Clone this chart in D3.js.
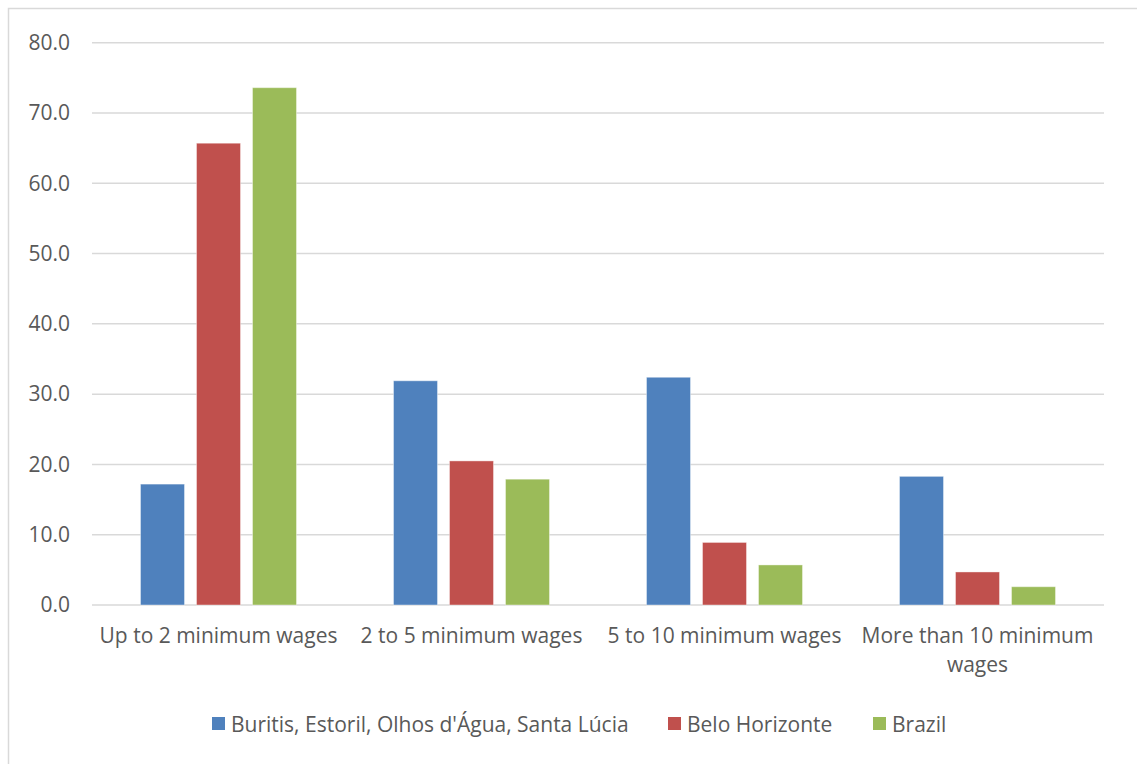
<!DOCTYPE html>
<html>
<head>
<meta charset="utf-8">
<script src="https://cdn.jsdelivr.net/npm/d3@7"></script>
<style>
  body { margin: 0; background: #fff; }
  text { font-family: "Open Sans", sans-serif; fill: #595959; }
</style>
</head>
<body>
<div id="chart"></div>
<script>
// data
var categories = ["Up to 2 minimum wages", "2 to 5 minimum wages", "5 to 10 minimum wages", "More than 10 minimum wages"];
var seriesNames = ["Buritis, Estoril, Olhos d'Água, Santa Lúcia", "Belo Horizonte", "Brazil"];
var buritis = [17.2, 31.9, 32.4, 18.3];
var beloHorizonte = [65.7, 20.5, 8.9, 4.7];
var brazil = [73.6, 17.9, 5.7, 2.6];
var yTicks = [0, 10, 20, 30, 40, 50, 60, 70, 80];
var colors = ["#4f81bd", "#c0504d", "#9bbb59"];

var allSeries = [buritis, beloHorizonte, brazil];

var W = 1137, H = 764;
var plotLeft = 92, plotRight = 1104, plotTop = 42.7, plotBottom = 605;
var fontSize = "21px";

var svg = d3.select("#chart").append("svg")
  .attr("width", W)
  .attr("height", H);

// chart frame (runs off the right and bottom edges)
svg.append("rect")
  .attr("x", 8.5).attr("y", 8.5)
  .attr("width", 1150).attr("height", 780)
  .attr("fill", "none")
  .attr("stroke", "#d9d9d9")
  .attr("stroke-width", 1.5);

var x0 = d3.scaleBand().domain(categories).range([plotLeft, plotRight]);
var x1 = d3.scaleBand().domain(d3.range(3)).range([0, 156]).paddingInner(12 / 56);
var y = d3.scaleLinear().domain([0, 80]).range([plotBottom, plotTop]);

// gridlines
svg.append("g").selectAll("line")
  .data(yTicks)
  .enter().append("line")
  .attr("x1", plotLeft).attr("x2", plotRight)
  .attr("y1", function(d) { return y(d); })
  .attr("y2", function(d) { return y(d); })
  .attr("stroke", "#d9d9d9")
  .attr("stroke-width", 1.5);

// y axis labels
var yAxis = d3.axisLeft(y).tickValues(yTicks).tickFormat(d3.format(".1f")).tickSize(0).tickPadding(22);
var gy = svg.append("g").attr("transform", "translate(" + plotLeft + ",0)").call(yAxis);
gy.select(".domain").remove();
gy.selectAll("text")
  .style("font-family", "'Open Sans', sans-serif")
  .style("font-size", fontSize)
  .attr("fill", "#595959");

// bars
var groups = svg.append("g").selectAll("g")
  .data(categories)
  .enter().append("g")
  .attr("transform", function(d) { return "translate(" + (x0(d) + x0.bandwidth() / 2 - 78) + ",0)"; });

groups.selectAll("rect")
  .data(function(d, i) { return allSeries.map(function(s, k) { return { k: k, v: s[i] }; }); })
  .enter().append("rect")
  .attr("x", function(d) { return x1(d.k); })
  .attr("width", x1.bandwidth())
  .attr("y", function(d) { return y(d.v); })
  .attr("height", function(d) { return y(0) - y(d.v); })
  .attr("fill", function(d) { return colors[d.k]; })
  .attr("stroke", "#fff")
  .attr("stroke-opacity", 0.4)
  .attr("stroke-width", 1);

// x axis labels
var xAxis = d3.axisBottom(x0).tickSize(0).tickPadding(23);
var gx = svg.append("g").attr("transform", "translate(0," + plotBottom + ")").call(xAxis);
gx.select(".domain").remove();
gx.selectAll("text")
  .style("font-family", "'Open Sans', sans-serif")
  .style("font-size", fontSize)
  .attr("fill", "#595959")
  .call(wrap, 245);

function wrap(texts, width) {
  texts.each(function() {
    var text = d3.select(this);
    var words = text.text().split(/\s+/);
    var yy = text.attr("y"), dy = parseFloat(text.attr("dy"));
    var line = [];
    var lineNo = 0;
    var tspan = text.text(null).append("tspan").attr("x", 0).attr("y", yy).attr("dy", dy + "em");
    words.forEach(function(w) {
      line.push(w);
      tspan.text(line.join(" "));
      if (tspan.node().getComputedTextLength() > width && line.length > 1) {
        line.pop();
        tspan.text(line.join(" "));
        line = [w];
        lineNo++;
        tspan = text.append("tspan").attr("x", 0).attr("y", yy)
          .attr("dy", (dy + lineNo * 1.38) + "em").text(w);
      }
    });
  });
}

// legend
var legendX = [212, 668, 873];
var legend = svg.append("g").selectAll("g")
  .data(seriesNames)
  .enter().append("g")
  .attr("transform", function(d, i) { return "translate(" + legendX[i] + ",717)"; });

legend.append("rect")
  .attr("width", 13).attr("height", 13)
  .attr("fill", function(d, i) { return colors[i]; });

legend.append("text")
  .attr("x", 19).attr("y", 15)
  .style("font-size", fontSize)
  .text(function(d) { return d; });
</script>
</body>
</html>
